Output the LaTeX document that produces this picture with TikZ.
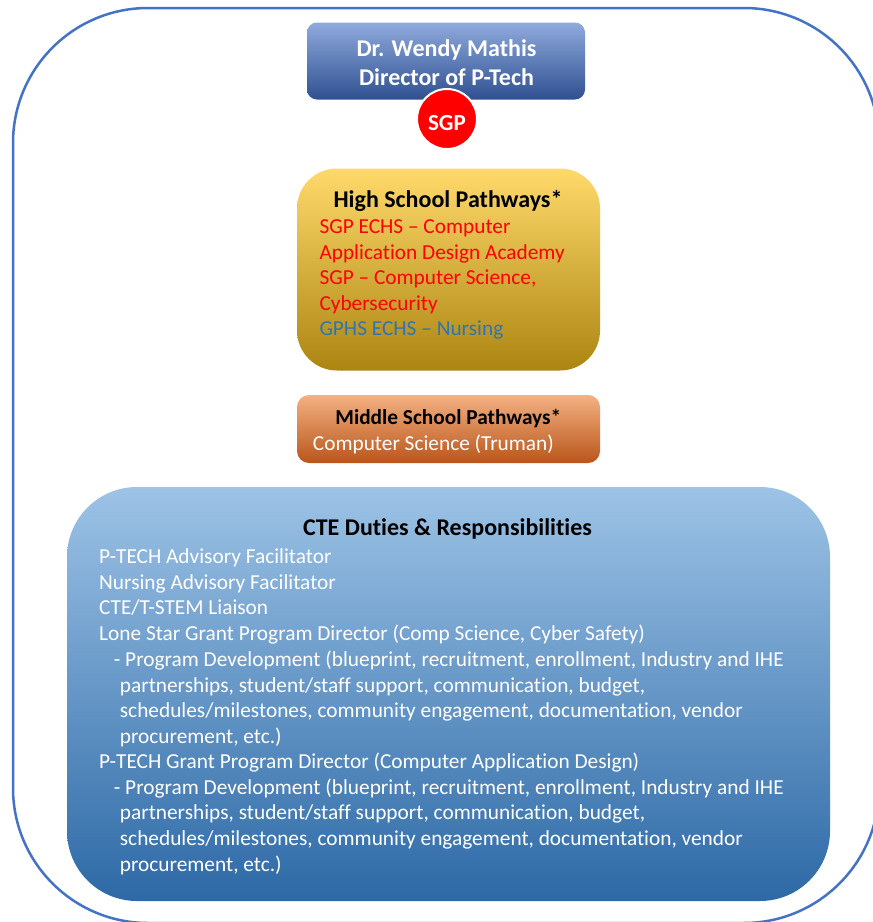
\documentclass[tikz,border=0pt]{standalone}
\usepackage{fontspec}
\setmainfont{Carlito}[Ligatures={NoCommon}]
\definecolor{frameblue}{HTML}{4472C4}
\definecolor{dirtop}{HTML}{8FAADC}
\definecolor{dirmid}{HTML}{4F76C4}
\definecolor{dirbot}{HTML}{2F5091}
\definecolor{hstop}{HTML}{FFDA6B}
\definecolor{hsmid}{HTML}{FFC000}
\definecolor{hsbot}{HTML}{AC8511}
\definecolor{mstop}{HTML}{F4B183}
\definecolor{msmid}{HTML}{ED7D31}
\definecolor{msbot}{HTML}{B9561A}
\definecolor{ctetop}{HTML}{9DC3E6}
\definecolor{ctemid}{HTML}{5F9AD3}
\definecolor{ctebot}{HTML}{2D69A6}
\definecolor{sgpred}{HTML}{FF0000}
\definecolor{txtred}{HTML}{FF0000}
\definecolor{txtblue}{HTML}{2E75B6}
\begin{document}
\begin{tikzpicture}[x=1pt,y=-1pt,
  boxbase/.style={draw=none, inner sep=0pt},
  dirbox/.style={boxbase, rounded corners=10pt, top color=dirtop, middle color=dirmid, bottom color=dirbot, minimum width=278pt, minimum height=77pt},
  hsbox/.style={boxbase, rounded corners=40pt, top color=hstop, middle color=hsmid, bottom color=hsbot, minimum width=303pt, minimum height=202pt},
  msbox/.style={boxbase, rounded corners=12pt, top color=mstop, middle color=msmid, bottom color=msbot, minimum width=303pt, minimum height=68pt},
  ctebox/.style={boxbase, rounded corners=70pt, top color=ctetop, middle color=ctemid, bottom color=ctebot, minimum width=763pt, minimum height=414pt},
  sgpcircle/.style={circle, fill=sgpred, draw=white, line width=2pt, minimum size=60pt, inner sep=0pt},
  bigbold/.style={inner sep=0pt, anchor=base, font=\fontsize{24}{28}\selectfont\bfseries},
  midbold/.style={inner sep=0pt, anchor=base, font=\fontsize{21.33}{25.6}\selectfont\bfseries},
  txtline/.style={inner sep=0pt, anchor=base west, font=\fontsize{21.33}{25.6}\selectfont},
  framestyle/.style={draw=frameblue, line width=2.5pt, rounded corners=135pt}
]
\useasboundingbox (0,0) rectangle (873,922);
\clip (0,0) rectangle (873,922);
\fill[white] (0,0) rectangle (873,922);
% outer frame
\draw[framestyle] (13,8) rectangle (879,923);

% director
\node[dirbox] (dir) at (446,61) {};
\node[bigbold, text=white] (dir1) at (446.5,56.5) {Dr. Wendy Mathis};
\node[bigbold, text=white] (dir2) at (446.5,85) {Director of P-Tech};
\node[sgpcircle] (sgp) at (447,119) {};
\node[inner sep=0pt, anchor=base, text=white, font=\fontsize{23}{27}\selectfont\bfseries] (sgpt) at (447,130) {SGP};

% high school
\node[hsbox] (hs) at (448.5,269.5) {};
\node[bigbold, text=black] (hst) at (448,207) {High School Pathways*};
\node[txtline, text=txtred] (hs1) at (319.3,233.5) {SGP ECHS – Computer};
\node[txtline, text=txtred] (hs2) at (319.3,259) {Application Design Academy};
\node[txtline, text=txtred] (hs3) at (319.3,284.5) {SGP – Computer Science,};
\node[txtline, text=txtred] (hs4) at (319.3,310) {Cybersecurity};
\node[txtline, text=txtblue] (hs5) at (319.3,335.5) {GPHS ECHS – Nursing};

% middle school
\node[msbox] (ms) at (448.5,429) {};
\node[midbold, text=black] (mst) at (448.3,424.5) {Middle School Pathways*};
\node[txtline, text=white] (ms1) at (312.7,450.3) {Computer Science (Truman)};

% CTE
\node[ctebox] (cte) at (448.5,694) {};
\node[bigbold, text=black] (ctet) at (447.5,535.3) {CTE Duties \& Responsibilities};
\node[txtline, text=white] (c1) at (99,563.7) {P-TECH Advisory Facilitator};
\node[txtline, text=white] (c2) at (99,589.3) {Nursing Advisory Facilitator};
\node[txtline, text=white] (c3) at (99,614.7) {CTE/T-STEM Liaison};
\node[txtline, text=white] (c4) at (99,640.3) {Lone Star Grant Program Director (Comp Science, Cyber Safety)};
\node[txtline, text=white] (c5) at (113.7,666) {- Program Development (blueprint, recruitment, enrollment, Industry and IHE};
\node[txtline, text=white] (c6) at (119.7,692) {partnerships, student/staff support, communication, budget,};
\node[txtline, text=white] (c7) at (119.7,717.3) {schedules/milestones, community engagement, documentation, vendor};
\node[txtline, text=white] (c8) at (119.7,743) {procurement, etc.)};
\node[txtline, text=white] (c9) at (99,768.3) {P-TECH Grant Program Director (Computer Application Design)};
\node[txtline, text=white] (c10) at (113.7,794.3) {- Program Development (blueprint, recruitment, enrollment, Industry and IHE};
\node[txtline, text=white] (c11) at (119.7,819.7) {partnerships, student/staff support, communication, budget,};
\node[txtline, text=white] (c12) at (119.7,845.3) {schedules/milestones, community engagement, documentation, vendor};
\node[txtline, text=white] (c13) at (119.7,871) {procurement, etc.)};
\end{tikzpicture}
\end{document}
